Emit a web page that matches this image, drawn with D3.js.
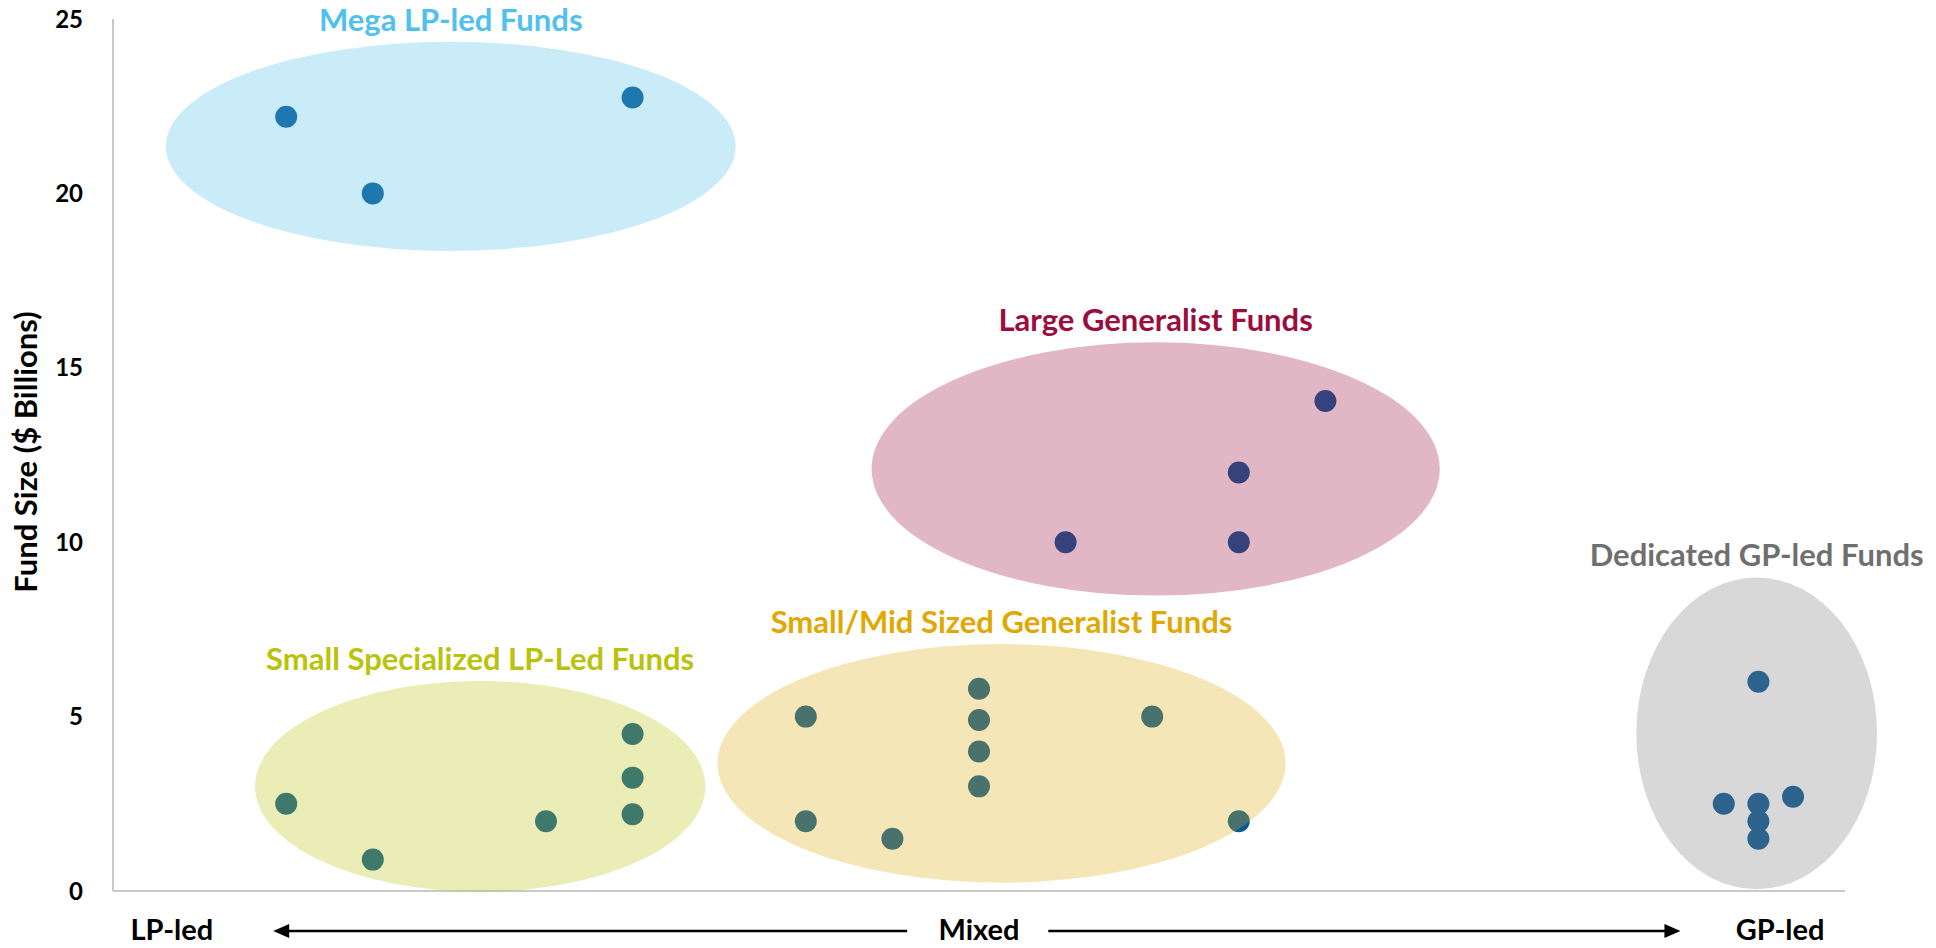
<!DOCTYPE html>
<html>
<head>
<meta charset="utf-8">
<script src="https://cdn.jsdelivr.net/npm/d3@7"></script>
<style>
  body { margin: 0; background: #fff; }
  text { font-family: Lato, "Open Sans", sans-serif; font-weight: bold; }
</style>
</head>
<body>
<svg id="chart" width="1936" height="948"></svg>
<script>
/* Fund size vs LP-led / GP-led scatter */

// fund points (x = position on LP-led..GP-led scale, y = fund size $bn)
const fundX = [2, 3, 6,
               11, 13, 13, 14,
               2, 3, 5, 6, 6, 6,
               8, 8, 9, 10, 10, 10, 10, 12, 13,
               19, 18.6, 19, 19.4, 19, 19];
const fundY = [22.2, 20.0, 22.75,
               10.0, 10.0, 12.0, 14.05,
               2.5, 0.9, 2.0, 2.2, 3.25, 4.5,
               5.0, 2.0, 1.5, 5.8, 4.9, 4.0, 3.0, 5.0, 2.0,
               6.0, 2.5, 2.5, 2.7, 2.0, 1.5];

// groups drawn as shaded ellipses (centre and radii in data units)
const groupNames = ["Mega LP-led Funds", "Large Generalist Funds", "Small Specialized LP-Led Funds",
                    "Small/Mid Sized Generalist Funds", "Dedicated GP-led Funds"];
const groupCx = [3.9, 12.04, 4.24, 10.26, 18.98];
const groupCy = [21.35, 12.1, 3.0, 3.66, 4.52];
const groupRx = [3.29, 3.28, 2.6, 3.28, 1.39];
const groupRy = [3.0, 3.63, 3.02, 3.42, 4.47];
const groupColors = ["#4fc1ec", "#9b0d3e", "#b9c30b", "#deac12", "#7f7f7f"];
const labelColors = ["#4fc1ec", "#9b0d3e", "#b9c30b", "#e0a800", "#6f6f6f"];

// bottom scale labels
const scaleLabels = ["LP-led", "Mixed", "GP-led"];
const scaleLabelX = [0.68, 10, 19.25];
const arrowLeft = [9.17, 1.85];   // from, to
const arrowRight = [10.8, 18.1];

const yTicks = [0, 5, 10, 15, 20, 25];

const svg = d3.select("#chart");

const x = d3.scaleLinear().domain([0, 20]).range([113, 1845]);
const y = d3.scaleLinear().domain([0, 25]).range([891, 19]);

// axis lines
svg.append("line")
    .attr("x1", x(0)).attr("x2", x(0))
    .attr("y1", y(25)).attr("y2", y(0))
    .attr("stroke", "#c9c9c9").attr("stroke-width", 2);
svg.append("line")
    .attr("x1", x(0)).attr("x2", x(20))
    .attr("y1", y(0)).attr("y2", y(0))
    .attr("stroke", "#c9c9c9").attr("stroke-width", 2);

// y tick labels
svg.append("g")
    .selectAll("text")
    .data(yTicks)
    .enter().append("text")
    .attr("x", 83)
    .attr("y", function(d) { return y(d); })
    .attr("dy", "0.36em")
    .attr("text-anchor", "end")
    .attr("font-size", "24px")
    .attr("fill", "#000")
    .text(function(d) { return d; });

// y title
svg.append("text")
    .attr("transform", "translate(37," + 452 + ") rotate(-90)")
    .attr("text-anchor", "middle")
    .attr("font-size", "31px")
    .attr("fill", "#000")
    .text("Fund Size ($ Billions)");

// points (under the translucent ellipses)
svg.append("g")
    .selectAll("circle")
    .data(fundX.map(function(d, i) { return {x: d, y: fundY[i]}; }))
    .enter().append("circle")
    .attr("cx", function(d) { return x(d.x); })
    .attr("cy", function(d) { return y(d.y); })
    .attr("r", 11)
    .attr("fill", "#0a5a96");

const groups = groupNames.map(function(name, i) {
  return {name: name, cx: groupCx[i], cy: groupCy[i], rx: groupRx[i], ry: groupRy[i],
          color: groupColors[i], label: labelColors[i]};
});

svg.append("g")
    .selectAll("ellipse")
    .data(groups)
    .enter().append("ellipse")
    .attr("cx", function(d) { return x(d.cx); })
    .attr("cy", function(d) { return y(d.cy); })
    .attr("rx", function(d) { return x(d.cx + d.rx) - x(d.cx); })
    .attr("ry", function(d) { return y(d.cy - d.ry) - y(d.cy); })
    .attr("fill", function(d) { return d.color; })
    .attr("fill-opacity", 0.3);

svg.append("g")
    .selectAll("text")
    .data(groups)
    .enter().append("text")
    .attr("x", function(d) { return x(d.cx); })
    .attr("y", function(d) { return y(d.cy + d.ry) - 11; })
    .attr("text-anchor", "middle")
    .attr("font-size", "31px")
    .attr("fill", function(d) { return d.label; })
    .text(function(d) { return d.name; });

// bottom scale labels + arrows
svg.append("g")
    .selectAll("text")
    .data(scaleLabels)
    .enter().append("text")
    .attr("x", function(d, i) { return x(scaleLabelX[i]); })
    .attr("y", 940)
    .attr("text-anchor", "middle")
    .attr("font-size", "29px")
    .attr("fill", "#000")
    .text(function(d) { return d; });

function arrow(from, to) {
  const ay = 931, x0 = x(from), x1 = x(to);
  const dir = x1 > x0 ? 1 : -1;
  svg.append("line")
      .attr("x1", x0).attr("x2", x1 - dir * 10)
      .attr("y1", ay).attr("y2", ay)
      .attr("stroke", "#000").attr("stroke-width", 2.6);
  svg.append("path")
      .attr("d", "M" + x1 + "," + ay + "L" + (x1 - dir * 16) + "," + (ay - 7) +
                 "L" + (x1 - dir * 16) + "," + (ay + 7) + "Z")
      .attr("fill", "#000");
}
arrow(arrowLeft[0], arrowLeft[1]);
arrow(arrowRight[0], arrowRight[1]);
</script>
</body>
</html>
